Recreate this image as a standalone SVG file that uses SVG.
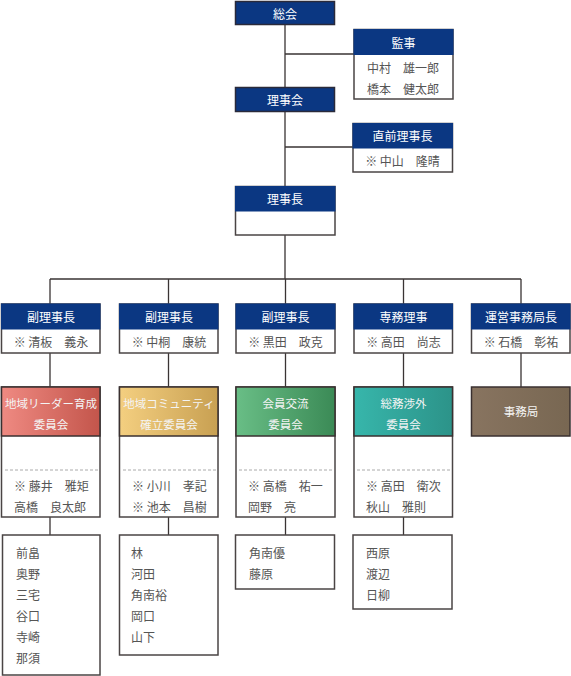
<svg xmlns="http://www.w3.org/2000/svg" width="571" height="676" viewBox="0 0 571 676">
<defs>
<linearGradient id="gRed" x1="0" y1="0" x2="1" y2="0"><stop offset="0" stop-color="#EF8A82"/><stop offset="1" stop-color="#C3554B"/></linearGradient>
<linearGradient id="gGold" x1="0" y1="0" x2="1" y2="0"><stop offset="0" stop-color="#F4CF80"/><stop offset="1" stop-color="#C8A052"/></linearGradient>
<linearGradient id="gGreen" x1="0" y1="0" x2="1" y2="0"><stop offset="0" stop-color="#69BE86"/><stop offset="1" stop-color="#3B8A56"/></linearGradient>
<linearGradient id="gTeal" x1="0" y1="0" x2="1" y2="0"><stop offset="0" stop-color="#37B6AB"/><stop offset="1" stop-color="#2C9389"/></linearGradient>
<linearGradient id="gBrown" x1="0" y1="0" x2="1" y2="0"><stop offset="0" stop-color="#887460"/><stop offset="1" stop-color="#786752"/></linearGradient>
<style>
.hd{fill:#0B3782;stroke:#0B3782;stroke-width:1}
.hdb{fill:#0B3782;stroke:#2a2a3a;stroke-width:1.5}
.bd{fill:#fff;stroke:#4a4444;stroke-width:1.5}
.cm{stroke:#3a3030;stroke-width:1.5}
.ht{font-family:"Noto Sans CJK JP","Noto Sans",sans-serif;font-size:12px;fill:#fff;text-anchor:middle;dominant-baseline:central}
.ct{font-family:"Noto Sans CJK JP","Noto Sans",sans-serif;font-size:11.5px;fill:#f4f4f4;text-anchor:middle;dominant-baseline:central}
.bt{font-family:"Noto Sans CJK JP","Noto Sans",sans-serif;font-size:12px;fill:#555;dominant-baseline:central}
.btc{font-family:"Noto Sans CJK JP","Noto Sans",sans-serif;font-size:12px;fill:#555;text-anchor:middle;dominant-baseline:central}
.ln{stroke:#3a3434;stroke-width:1.3;fill:none}
.ds{stroke:#aaa;stroke-width:1;stroke-dasharray:3 2}
</style>
</defs>

<g id="connectors">
<path class="ln" d="M285 25V87M285 111V186M285 235V279M285 54H354M285 147H353"/>
<path class="ln" d="M50 279H521M50 279V304M168.5 279V304M285.5 279V304M403.5 279V304M521 279V304"/>
<path class="ln" d="M50 353V387M168.5 353V387M285.5 353V387M403.5 353V387M521 353V387"/>
<path class="ln" d="M50 517V535M168.5 517V535M285.5 517V535M403.5 517V535"/>
</g>

<g id="soukai">
<rect class="hdb" x="235.5" y="1.5" width="99" height="23"/>
<text class="ht" x="285" y="13">総会</text>
</g>

<g id="kanji">
<rect class="bd" x="354" y="29.5" width="99" height="69.5"/>
<rect class="hd" x="354" y="29.5" width="99" height="25"/>
<text class="ht" x="403.5" y="42">監事</text>
<text class="btc" x="403" y="67">中村　雄一郎</text>
<text class="btc" x="403" y="88">橋本　健太郎</text>
</g>

<g id="rijikai">
<rect class="hdb" x="235.5" y="87.5" width="99" height="24"/>
<text class="ht" x="285" y="99.5">理事会</text>
</g>

<g id="chokuzen">
<rect class="bd" x="353" y="123.5" width="99.5" height="48.5"/>
<rect class="hd" x="353" y="123.5" width="99.5" height="24.5"/>
<text class="ht" x="402.5" y="135.5">直前理事長</text>
<text class="btc" x="402.5" y="160">※ 中山　隆晴</text>
</g>

<g id="rijicho">
<rect class="bd" x="235.5" y="186.5" width="99.5" height="48.5"/>
<rect class="hd" x="235.5" y="186.5" width="99.5" height="24.5"/>
<text class="ht" x="285" y="198.5">理事長</text>
</g>

<g id="vice1">
<rect class="bd" x="1.5" y="304" width="98.5" height="49"/>
<rect class="hd" x="1.5" y="304" width="98.5" height="25"/>
<text class="ht" x="51" y="316.5">副理事長</text>
<text class="btc" x="51" y="341.5">※ 清板　義永</text>
</g>
<g id="vice2">
<rect class="bd" x="119.5" y="304" width="98.5" height="49"/>
<rect class="hd" x="119.5" y="304" width="98.5" height="25"/>
<text class="ht" x="169" y="316.5">副理事長</text>
<text class="btc" x="169" y="341.5">※ 中桐　康統</text>
</g>
<g id="vice3">
<rect class="bd" x="236" y="304" width="99" height="49"/>
<rect class="hd" x="236" y="304" width="99" height="25"/>
<text class="ht" x="285.5" y="316.5">副理事長</text>
<text class="btc" x="285.5" y="341.5">※ 黒田　政克</text>
</g>
<g id="senmu">
<rect class="bd" x="354" y="304" width="98.5" height="49"/>
<rect class="hd" x="354" y="304" width="98.5" height="25"/>
<text class="ht" x="403.5" y="316.5">専務理事</text>
<text class="btc" x="403.5" y="341.5">※ 高田　尚志</text>
</g>
<g id="unei">
<rect class="bd" x="471.5" y="304" width="98.5" height="49"/>
<rect class="hd" x="471.5" y="304" width="98.5" height="25"/>
<text class="ht" x="521" y="316.5">運営事務局長</text>
<text class="btc" x="521" y="341.5">※ 石橋　彰祐</text>
</g>

<g id="com1">
<rect class="bd" x="1.5" y="387" width="98.5" height="130"/>
<rect class="cm" fill="url(#gRed)" x="1.5" y="387" width="98.5" height="49"/>
<text class="ct" x="51" y="403">地域リーダー育成</text>
<text class="ct" x="51" y="424">委員会</text>
<line class="ds" x1="5" y1="470" x2="98" y2="470"/>
<text class="bt" x="14" y="485">※ 藤井　雅矩</text>
<text class="bt" x="14" y="506">高橋　良太郎</text>
</g>
<g id="com2">
<rect class="bd" x="119.5" y="387" width="98.5" height="130"/>
<rect class="cm" fill="url(#gGold)" x="119.5" y="387" width="98.5" height="49"/>
<text class="ct" x="169" y="403">地域コミュニティ</text>
<text class="ct" x="169" y="424">確立委員会</text>
<line class="ds" x1="123" y1="470" x2="216" y2="470"/>
<text class="bt" x="132" y="485">※ 小川　孝記</text>
<text class="bt" x="132" y="506">※ 池本　昌樹</text>
</g>
<g id="com3">
<rect class="bd" x="236" y="387" width="99" height="130"/>
<rect class="cm" fill="url(#gGreen)" x="236" y="387" width="99" height="49"/>
<text class="ct" x="285.5" y="403">会員交流</text>
<text class="ct" x="285.5" y="424">委員会</text>
<line class="ds" x1="239" y1="470" x2="333" y2="470"/>
<text class="bt" x="248" y="485">※ 高橋　祐一</text>
<text class="bt" x="248" y="506">岡野　亮</text>
</g>
<g id="com4">
<rect class="bd" x="354" y="387" width="98.5" height="130"/>
<rect class="cm" fill="url(#gTeal)" x="354" y="387" width="98.5" height="49"/>
<text class="ct" x="403.5" y="403">総務渉外</text>
<text class="ct" x="403.5" y="424">委員会</text>
<line class="ds" x1="357" y1="470" x2="451" y2="470"/>
<text class="bt" x="366" y="485">※ 高田　衛次</text>
<text class="bt" x="366" y="506">秋山　雅則</text>
</g>
<g id="jimukyoku">
<rect class="cm" fill="url(#gBrown)" x="471.5" y="387" width="98.5" height="49"/>
<text class="ct" x="521" y="411">事務局</text>
</g>

<g id="list1">
<rect class="bd" x="2.5" y="535" width="97.5" height="140"/>
<text class="bt" x="16" y="552">前畠</text>
<text class="bt" x="16" y="573">奥野</text>
<text class="bt" x="16" y="594">三宅</text>
<text class="bt" x="16" y="615">谷口</text>
<text class="bt" x="16" y="636">寺崎</text>
<text class="bt" x="16" y="657">那須</text>
</g>
<g id="list2">
<rect class="bd" x="119.5" y="535" width="98.5" height="120"/>
<text class="bt" x="131" y="552">林</text>
<text class="bt" x="131" y="573">河田</text>
<text class="bt" x="131" y="594">角南裕</text>
<text class="bt" x="131" y="615">岡口</text>
<text class="bt" x="131" y="636">山下</text>
</g>
<g id="list3">
<rect class="bd" x="235.5" y="535" width="99" height="54"/>
<text class="bt" x="249" y="552">角南優</text>
<text class="bt" x="249" y="573">藤原</text>
</g>
<g id="list4">
<rect class="bd" x="353" y="535" width="99" height="74"/>
<text class="bt" x="366" y="552">西原</text>
<text class="bt" x="366" y="573">渡辺</text>
<text class="bt" x="366" y="594">日柳</text>
</g>
</svg>
